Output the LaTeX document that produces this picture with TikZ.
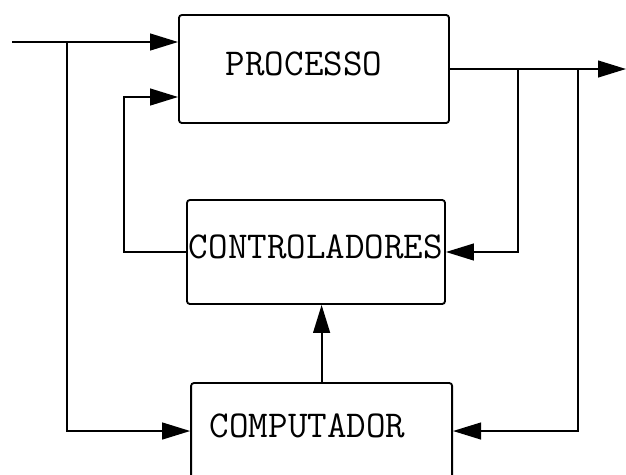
\documentclass[tikz,border=0pt]{standalone}
\usepackage{fontspec}
\usetikzlibrary{arrows.meta,calc}

\begin{document}
\begin{tikzpicture}[
    x=1cm,y=1cm,
    bx/.style = {rectangle,rounded corners=2pt,draw=black,line width=1.3pt,
                 inner sep=0pt,text depth=0.25cm,
                 font=\ttfamily\fontsize{27}{31}\selectfont},
    fl/.style = {-{Triangle[length=7mm,width=4.2mm]},black,line width=1.3pt},
  ]
  \clip (0,0) rectangle (15.65,-11.85);

  \node[bx,minimum width=6.75cm,minimum height=2.7cm] (proc) at (7.85,-1.725)
       {PROCESSO\hspace*{0.5cm}};
  \node[bx,minimum width=6.45cm,minimum height=2.6cm] (ctrl) at (7.9,-6.3)
       {CONTROLADORES};
  \node[bx,minimum width=6.525cm,minimum height=2.4cm] (comp) at (8.04,-10.775)
       {COMPUTADOR\hspace*{0.7cm}};

  \coordinate (in)  at (0.3,-1.05);
  \coordinate (ja)  at (1.675,-1.05);
  \coordinate (fb)  at (3.1,-2.425);
  \coordinate (jb)  at (12.95,-1.725);
  \coordinate (jc)  at (14.45,-1.725);
  \coordinate (out) at (15.65,-1.725);

  \draw[fl] (in) -- (proc.west |- in);
  \draw[fl] (ja) |- (comp.west);
  \draw[fl] (ctrl.west) -| (fb) -- (proc.west |- fb);
  \draw[fl] (proc.east) -- (out);
  \draw[fl] (jb) |- (ctrl.east);
  \draw[fl] (jc) |- (comp.east);
  \draw[fl] (comp.north) -- (comp.north |- ctrl.south);

\end{tikzpicture}
\end{document}
